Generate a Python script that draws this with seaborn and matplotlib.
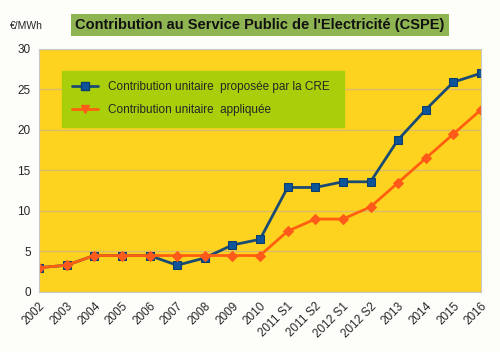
import numpy as np
import pandas as pd
import matplotlib
matplotlib.use('Agg')
import matplotlib.pyplot as plt
import seaborn as sns

periodes = ['2002', '2003', '2004', '2005', '2006', '2007', '2008', '2009', '2010',
            '2011 S1', '2011 S2', '2012 S1', '2012 S2', '2013', '2014', '2015', '2016']
proposee = [3.0, 3.3, 4.5, 4.5, 4.5, 3.3, 4.2, 5.8, 6.5, 12.9, 12.9, 13.6, 13.6, 18.8, 22.5, 25.9, 27.0]
appliquee = [3.0, 3.3, 4.5, 4.5, 4.5, 4.5, 4.5, 4.5, 4.5, 7.5, 9.0, 9.0, 10.5, 13.5, 16.5, 19.5, 22.5]

lab_cre = 'Contribution unitaire  proposée par la CRE'
lab_app = 'Contribution unitaire  appliquée'

df = pd.DataFrame({'pos': list(range(len(periodes))) * 2,
                   'valeur': proposee + appliquee,
                   'serie': [lab_cre] * len(periodes) + [lab_app] * len(periodes)})

sns.set_style('white')
plt.rcParams['font.family'] = ['Liberation Sans', 'DejaVu Sans']

fig = plt.figure(figsize=(5, 3.52), dpi=100, facecolor='#fdfdfa')
ax = fig.add_axes([0.078, 0.1705, 0.884, 0.6905])
ax.set_facecolor('#fdd320')

sns.lineplot(data=df, x='pos', y='valeur', hue='serie', style='serie',
             palette={lab_cre: '#1b4a72', lab_app: '#ff6010'},
             markers={lab_cre: 's', lab_app: 'D'}, dashes=False,
             linewidth=2, markersize=6, ax=ax, sort=False)

# couleurs des marqueurs
for line in ax.lines:
    if line.get_color() == '#1b4a72':
        line.set_markerfacecolor('#0d5499')
        line.set_markeredgecolor('#0a3d6e')
    else:
        line.set_markerfacecolor('#ff5a1a')
        line.set_markeredgecolor('#ff5a1a')
        line.set_markersize(5)

ax.set_xlim(0, len(periodes) - 1)
ax.set_ylim(0, 30)
ax.set_yticks(range(0, 31, 5))
ax.set_xticks(range(len(periodes)))
ax.set_xticklabels(periodes, rotation=45, ha='right', rotation_mode='anchor', fontsize=8.5)
ax.tick_params(axis='y', labelsize=8.5, length=4, color='#999999', pad=2)
ax.tick_params(axis='x', length=4, color='#999999', pad=2)
ax.set_xlabel('')
ax.set_ylabel('')
ax.yaxis.grid(True, color='#d9bb6a', linewidth=1)
ax.set_axisbelow(True)
for s in ax.spines.values():
    s.set_color('#c8c8c8')
    s.set_linewidth(0.8)

# légende : triangle vers le bas pour la série appliquée
from matplotlib.lines import Line2D
handles = [Line2D([], [], color='#1b4a72', lw=2, marker='s', markersize=6,
                  markerfacecolor='#0d5499', markeredgecolor='#0a3d6e'),
           Line2D([], [], color='#ff6010', lw=2, marker='v', markersize=6,
                  markerfacecolor='#ff5a1a', markeredgecolor='#ff5a1a')]
leg = ax.legend(handles, [lab_cre, lab_app], loc='upper left',
                bbox_to_anchor=(0.038, 0.72, 0.666, 0.214), mode='expand',
                fontsize=8.5, frameon=True, fancybox=False, facecolor='#a8cf0a',
                edgecolor='#a8cf0a', framealpha=1, borderpad=0.9, labelspacing=0.9,
                handlelength=2.2)

fig.text(0.02, 0.926, '€/MWh', fontsize=7.5, va='center', ha='left')
fig.text(0.52, 0.929, "Contribution au Service Public de l'Electricité (CSPE)",
         fontsize=10.5, fontweight='bold', ha='center', va='center', color='#111111',
         bbox=dict(boxstyle='square,pad=0.3', facecolor='#8fb552', edgecolor='none'))

fig.savefig('out.png', dpi=100, facecolor=fig.get_facecolor())
